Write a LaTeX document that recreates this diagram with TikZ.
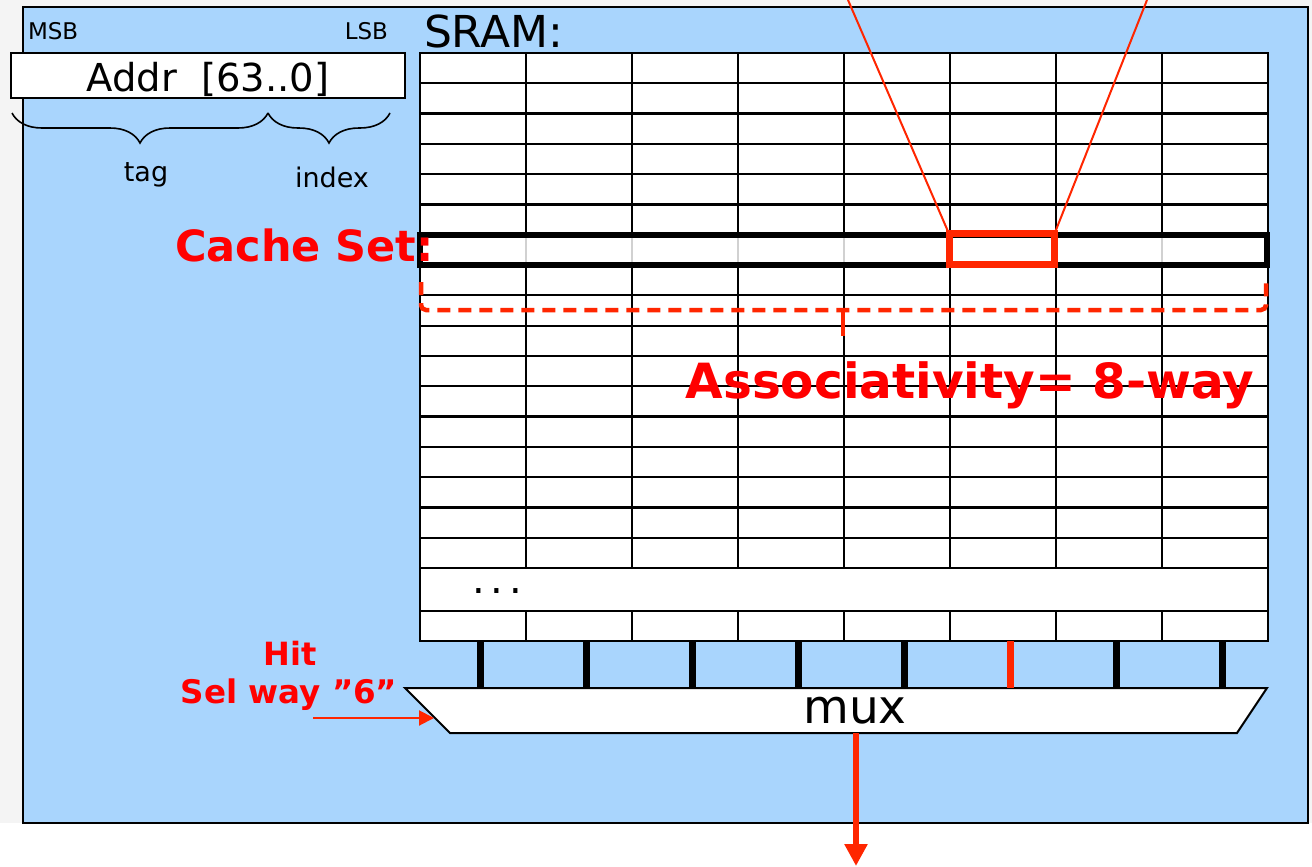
\documentclass[tikz,border=0pt]{standalone}
\usepackage{fontspec}
\setmainfont{DejaVu Sans}
\usetikzlibrary{arrows.meta,decorations.pathreplacing}

\definecolor{panelblue}{RGB}{169,213,253}
\definecolor{hotred}{RGB}{255,38,0}
\definecolor{textred}{RGB}{255,0,0}
\definecolor{pagegray}{RGB}{244,244,244}
\newcommand{\setfs}[1]{\fontsize{#1}{#1}\selectfont}

\tikzset{
  label/.style={inner sep=0pt, outer sep=0pt, anchor=base},
  redlabel/.style={label, text=textred, font=\bfseries\setfs{#1}},
  gridline/.style={line width=2.2pt, black},
  faintline/.style={line width=1.2pt, black!18},
  bus/.style={line width=7pt},
  brace/.style={line width=1.6pt, decorate, decoration={brace, mirror, amplitude=30pt}},
  zoomline/.style={hotred, line width=2pt},
}

\begin{document}
\begin{tikzpicture}[x=1pt, y=-1pt]
\useasboundingbox (0,0) rectangle (1312,867);
\fill[white] (0,0) rectangle (1312,867);
\fill[pagegray] (0,0) rectangle (1312,823);

% slide panel
\node[draw, line width=1.5pt, fill=panelblue, minimum width=1285pt, minimum height=816pt,
      inner sep=0pt, outer sep=0pt, anchor=north west] (panel) at (23,7) {};

% address register
\node[draw, line width=1.8pt, fill=white, minimum width=394pt, minimum height=45pt,
      inner sep=0pt, outer sep=0pt, anchor=north west] (addr) at (11,53) {};
\node[label, font=\setfs{38.5}] (addrtext) at (208,92) {Addr~~[63..0]};
\node[label, font=\setfs{23}, anchor=base west] (msb) at (28,40) {MSB};
\node[label, font=\setfs{23}, anchor=base east] (lsb) at (388,40) {LSB};

% tag / index fields
\coordinate (tagL) at (12,113);
\coordinate (tagR) at (268,113);
\coordinate (idxR) at (390,113);
\draw[brace] (tagL) -- (tagR);
\draw[brace] (tagR) -- (idxR);
\node[label, font=\setfs{27}] (tag) at (146,181) {tag};
\node[label, font=\setfs{27}] (index) at (332,187) {index};

% SRAM array
\node[label, font=\setfs{44}, anchor=base west] (sramlabel) at (424,48) {SRAM:};
\node[fill=white, minimum width=848pt, minimum height=588pt, inner sep=0pt, outer sep=0pt,
      anchor=north west] (sram) at (420,53) {};
\foreach \j in {0,...,17}
  \draw[gridline] (420,{53+30.294*\j}) -- (1268,{53+30.294*\j});
\draw[gridline] (420,611) -- (1268,611);
\foreach \i in {1,...,7} {
  \draw[gridline] ({420+106*\i},53) -- ({420+106*\i},234.76);
  \draw[faintline] ({420+106*\i},234.76) -- ({420+106*\i},265.06);
  \draw[gridline] ({420+106*\i},265.06) -- ({420+106*\i},568);
  \draw[gridline] ({420+106*\i},611) -- ({420+106*\i},641);
}
\draw[gridline] (420,53) rectangle (1268,641);
\node[label, font=\setfs{40}, anchor=base west] (dots) at (472,593) {.\hspace{6pt}.\hspace{6pt}.};

% highlighted set
\draw[line width=6.5pt] (420,234.76) rectangle (1267,265.06);
\node[redlabel=43, anchor=base west] (setlabel) at (175,261) {Cache Set:};

% selected way
\node[draw=hotred, line width=7pt, minimum width=105.5pt, minimum height=30.5pt,
      inner sep=0pt, outer sep=0pt] (way6) at (1001.75,249) {};
\coordinate (zoomL) at (848,0);
\coordinate (zoomR) at (1147,0);
\draw[zoomline] (zoomL) -- (way6.north west);
\draw[zoomline] (zoomR) -- (way6.north east);

% associativity bracket
\draw[hotred, line width=4.5pt, dash pattern=on 13pt off 8pt, rounded corners=5pt]
  (421,282) -- (421,310) -- (1266,310) -- (1266,282);
\draw[hotred, line width=4.5pt] (843,312) -- (843,336);
\node[redlabel=48.5] (assoc) at (970,398) {Associativity= 8-way};

% multiplexer
\draw[fill=white, line width=2pt] (405,688) -- (1267,688) -- (1237,733) -- (450,733) -- cycle;
\node[label, font=\setfs{47}] (mux) at (855,723) {mux};

% way outputs into the mux
\foreach \i in {0,...,7} {
  \coordinate (wayout\i) at ({480+106*\i},641);
  \coordinate (muxin\i) at ({480+106*\i},688);
}
\foreach \i in {0,1,2,3,4,6,7}
  \draw[bus, black] (wayout\i) -- (muxin\i);
\draw[bus, hotred] (wayout5) -- (muxin5);

% hit select
\node[redlabel=32] (hit) at (290,665) {Hit};
\node[redlabel=32.5] (selway) at (289,703) {Sel way ”6”};
\coordinate (selstart) at (313,718);
\coordinate (muxsel) at (434,718);
\draw[hotred, line width=2pt, -{Triangle[length=15pt,width=15pt]}] (selstart) -- (muxsel);

% data out
\coordinate (muxout) at (856,733);
\coordinate (dataout) at (856,866);
\draw[hotred, line width=6pt, -{Triangle[length=22pt,width=22pt]}] (muxout) -- (dataout);
\end{tikzpicture}
\end{document}
